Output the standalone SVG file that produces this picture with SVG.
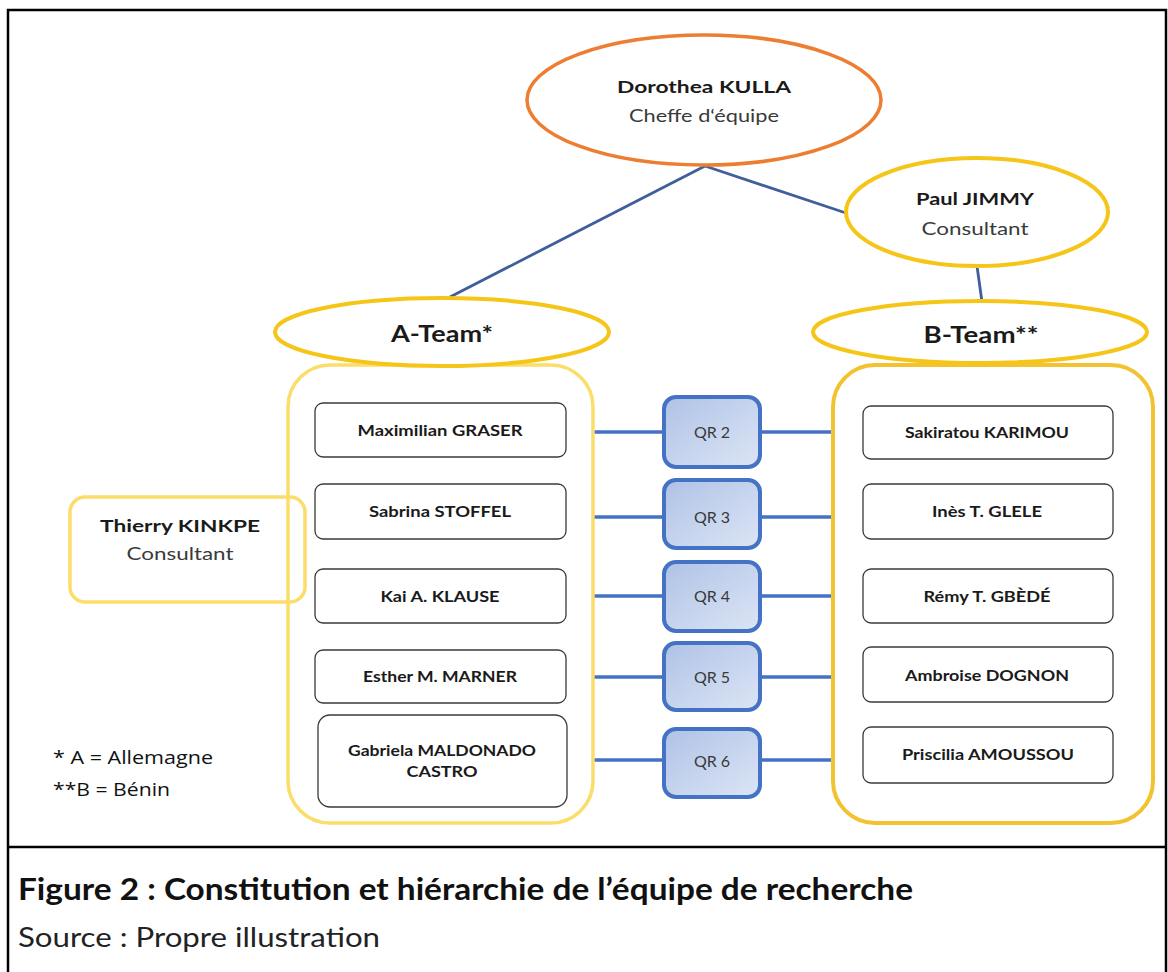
<svg xmlns="http://www.w3.org/2000/svg" width="1168" height="972" viewBox="0 0 1168 972">
<defs>
<linearGradient id="qrg" x1="0" y1="0" x2="1" y2="1">
<stop offset="0" stop-color="#AFC2E6"/>
<stop offset="1" stop-color="#DCE5F5"/>
</linearGradient>
<style>
.t{font-family:Lato,"Liberation Sans",sans-serif;fill:#1a1a1a;text-anchor:middle}
.b{font-weight:bold}
.sub{fill:#3a3a3a}
.mem{fill:#fff;stroke:#3a3a3a;stroke-width:1.3}
.qr{fill:url(#qrg);stroke:#4472C4;stroke-width:4}
.ye{fill:#fff;stroke:#F5C518;stroke-width:4}
.lk{stroke:#4472C4;stroke-width:3.5;fill:none}
.tp{stroke:#3F5E9C;stroke-width:2.8;fill:none}
</style>
</defs>
<rect x="0" y="0" width="1168" height="972" fill="#fff"/>
<g id="frame" fill="none" stroke="#000" stroke-width="2.5">
<path d="M8,990 V10 H1166 V990"/>
<line x1="8" y1="847" x2="1166" y2="847"/>
</g>
<g id="connectors">
<line class="tp" x1="705" y1="166" x2="450" y2="297"/>
<line class="tp" x1="705" y1="166" x2="846" y2="213"/>
<line class="tp" x1="977" y1="266" x2="982" y2="302"/>
<line class="lk" x1="593" y1="432" x2="664" y2="432"/>
<line class="lk" x1="760" y1="432" x2="833" y2="432"/>
<line class="lk" x1="593" y1="517" x2="664" y2="517"/>
<line class="lk" x1="760" y1="517" x2="833" y2="517"/>
<line class="lk" x1="593" y1="596" x2="664" y2="596"/>
<line class="lk" x1="760" y1="596" x2="833" y2="596"/>
<line class="lk" x1="593" y1="677" x2="664" y2="677"/>
<line class="lk" x1="760" y1="677" x2="833" y2="677"/>
<line class="lk" x1="593" y1="760" x2="664" y2="760"/>
<line class="lk" x1="760" y1="760" x2="833" y2="760"/>
</g>
<g id="a-container"><rect x="288" y="365" width="305" height="458" rx="42" fill="none" stroke="#FBDD6A" stroke-width="3.5"/></g>
<g id="b-container"><rect x="833" y="365" width="320" height="458" rx="42" fill="none" stroke="#F2C230" stroke-width="4"/></g>
<g id="dorothea">
<ellipse cx="704" cy="100" rx="177" ry="65" fill="#fff" stroke="#ED7D31" stroke-width="3.5"/>
<text class="t b" x="704" y="93" font-size="17" textLength="174" lengthAdjust="spacingAndGlyphs">Dorothea KULLA</text>
<text class="t sub" x="704" y="122" font-size="17" textLength="150" lengthAdjust="spacingAndGlyphs">Cheffe d‘équipe</text>
</g>
<g id="paul">
<ellipse class="ye" cx="977" cy="212" rx="131" ry="54"/>
<text class="t b" x="975" y="205" font-size="17" textLength="118" lengthAdjust="spacingAndGlyphs">Paul JIMMY</text>
<text class="t sub" x="975" y="235" font-size="17" textLength="107" lengthAdjust="spacingAndGlyphs">Consultant</text>
</g>
<g id="a-team">
<ellipse class="ye" cx="442" cy="332" rx="167" ry="34"/>
<text class="t b" x="442" y="342" font-size="22" textLength="102" lengthAdjust="spacingAndGlyphs">A-Team*</text>
</g>
<g id="b-team">
<ellipse class="ye" cx="980" cy="332" rx="167" ry="31"/>
<text class="t b" x="981" y="343" font-size="22" textLength="115" lengthAdjust="spacingAndGlyphs">B-Team**</text>
</g>
<g id="thierry">
<rect x="70" y="497" width="235" height="105" rx="15" fill="none" stroke="#FBDD6A" stroke-width="3.5"/>
<text class="t b" x="180" y="532" font-size="17" textLength="160" lengthAdjust="spacingAndGlyphs">Thierry KINKPE</text>
<text class="t sub" x="180" y="560" font-size="17" textLength="107" lengthAdjust="spacingAndGlyphs">Consultant</text>
</g>
<g id="a1"><rect class="mem" x="315" y="403" width="251" height="54" rx="8"/><text class="t b" x="440" y="436" font-size="15" textLength="165" lengthAdjust="spacingAndGlyphs">Maximilian GRASER</text></g>
<g id="a2"><rect class="mem" x="315" y="484" width="251" height="55" rx="8"/><text class="t b" x="440" y="517" font-size="15" textLength="142" lengthAdjust="spacingAndGlyphs">Sabrina STOFFEL</text></g>
<g id="a3"><rect class="mem" x="315" y="569" width="251" height="54" rx="8"/><text class="t b" x="440" y="602" font-size="15" textLength="119" lengthAdjust="spacingAndGlyphs">Kai A. KLAUSE</text></g>
<g id="a4"><rect class="mem" x="315" y="650" width="251" height="53" rx="8"/><text class="t b" x="440" y="682" font-size="15" textLength="154" lengthAdjust="spacingAndGlyphs">Esther M. MARNER</text></g>
<g id="a5"><rect class="mem" x="318" y="715" width="249" height="92" rx="12"/><text class="t b" x="442" y="756" font-size="15" textLength="188" lengthAdjust="spacingAndGlyphs">Gabriela MALDONADO</text><text class="t b" x="442" y="777" font-size="15" textLength="71" lengthAdjust="spacingAndGlyphs">CASTRO</text></g>
<g id="qr2"><rect class="qr" x="664" y="397" width="96" height="70" rx="12"/><text class="t sub" x="712" y="438" font-size="16">QR 2</text></g>
<g id="qr3"><rect class="qr" x="664" y="480" width="96" height="68" rx="12"/><text class="t sub" x="712" y="523" font-size="16">QR 3</text></g>
<g id="qr4"><rect class="qr" x="664" y="562" width="96" height="69" rx="12"/><text class="t sub" x="712" y="602" font-size="16">QR 4</text></g>
<g id="qr5"><rect class="qr" x="664" y="643" width="96" height="67" rx="12"/><text class="t sub" x="712" y="683" font-size="16">QR 5</text></g>
<g id="qr6"><rect class="qr" x="664" y="729" width="96" height="68" rx="12"/><text class="t sub" x="712" y="767" font-size="16">QR 6</text></g>
<g id="b1"><rect class="mem" x="863" y="406" width="250" height="53" rx="8"/><text class="t b" x="987" y="438" font-size="15" textLength="164" lengthAdjust="spacingAndGlyphs">Sakiratou KARIMOU</text></g>
<g id="b2"><rect class="mem" x="863" y="484" width="250" height="55" rx="8"/><text class="t b" x="987" y="517" font-size="15" textLength="110" lengthAdjust="spacingAndGlyphs">Inès T. GLELE</text></g>
<g id="b3"><rect class="mem" x="863" y="569" width="250" height="54" rx="8"/><text class="t b" x="987" y="602" font-size="15" textLength="127" lengthAdjust="spacingAndGlyphs">Rémy T. GBÈDÉ</text></g>
<g id="b4"><rect class="mem" x="863" y="647" width="250" height="55" rx="8"/><text class="t b" x="987" y="681" font-size="15" textLength="164" lengthAdjust="spacingAndGlyphs">Ambroise  DOGNON</text></g>
<g id="b5"><rect class="mem" x="863" y="727" width="250" height="56" rx="8"/><text class="t b" x="988" y="760" font-size="15" textLength="172" lengthAdjust="spacingAndGlyphs">Priscilia AMOUSSOU</text></g>
<g id="legend" font-family="'Open Sans','Liberation Sans',sans-serif" font-size="18" fill="#111">
<text x="53" y="764" textLength="160" lengthAdjust="spacingAndGlyphs">* A = Allemagne</text>
<text x="53" y="796" textLength="117" lengthAdjust="spacingAndGlyphs">**B = Bénin</text>
</g>
<g id="caption" font-family="Lato,'Liberation Sans',sans-serif" fill="#111">
<text x="18" y="900" font-size="31" font-weight="bold" textLength="895" lengthAdjust="spacingAndGlyphs">Figure 2 : Constitution et hiérarchie de l’équipe de recherche</text>
<text x="18" y="947" font-size="26" fill="#222" textLength="362" lengthAdjust="spacingAndGlyphs">Source : Propre illustration</text>
</g>
</svg>
